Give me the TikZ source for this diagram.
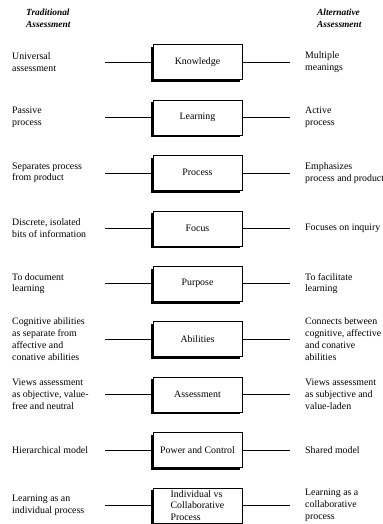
\documentclass[tikz,border=0pt]{standalone}
\usepackage{fontspec}
\setmainfont{Liberation Serif}
\usetikzlibrary{shadows}

\tikzset{
  concept/.style={draw, fill=white, minimum width=89bp, minimum height=35bp,
    inner sep=1bp, align=left, font=\fontsize{9.9}{11.6}\selectfont,
    drop shadow={shadow xshift=-2bp, shadow yshift=-2.5bp, fill=black, opacity=1}},
  side/.style={inner sep=0pt, align=left, font=\fontsize{9.9}{11.8}\selectfont},
  heading/.style={inner sep=0pt, align=left, font=\fontsize{9.4}{12}\selectfont\bfseries\itshape}
}

\begin{document}
\begin{tikzpicture}[x=1bp, y=-1bp]
    \useasboundingbox (0,0) rectangle (382,524);

    % headings
    \node[heading, anchor=west] (trad) at (26,18) {Traditional\\Assessment};
    \node[heading, anchor=west] (alt) at (317,18) {Alternative\\Assessment};

    % rows: concept in the middle, traditional view left, alternative view right
    \foreach \i/\ctext/\ltext/\rtext in {
        1/Knowledge/{Universal\\assessment}/{Multiple\\meanings},
        2/Learning/{Passive\\process}/{Active\\process},
        3/Process/{Separates process\\from product}/{Emphasizes\\process and product},
        4/Focus/{Discrete, isolated\\bits of information}/{Focuses on inquiry},
        5/Purpose/{To document\\learning}/{To facilitate\\learning},
        6/Abilities/{Cognitive abilities\\as separate from\\affective and\\conative abilities}/{Connects between\\cognitive, affective\\and conative\\abilities},
        7/Assessment/{Views assessment\\as objective, value-\\free and neutral}/{Views assessment\\as subjective and\\value-laden},
        8/Power and Control/{Hierarchical model}/{Shared model},
        9/{Individual vs\\Collaborative\\Process}/{Learning as an\\individual process}/{Learning as a\\collaborative\\process}}
    {
        \pgfmathsetmacro{\ypos}{62+55.4*(\i-1)}
        \node[concept] (box\i) at (197.5,\ypos) {\ctext};
        \node[side, anchor=west] (trad\i) at (12,\ypos) {\ltext};
        \node[side, anchor=west] (alt\i) at (305,\ypos) {\rtext};
        \coordinate (l\i) at (105,\ypos);
        \coordinate (r\i) at (290,\ypos);
        \draw (l\i) -- (box\i.west);
        \draw (box\i.east) -- (r\i);
    }
\end{tikzpicture}
\end{document}
